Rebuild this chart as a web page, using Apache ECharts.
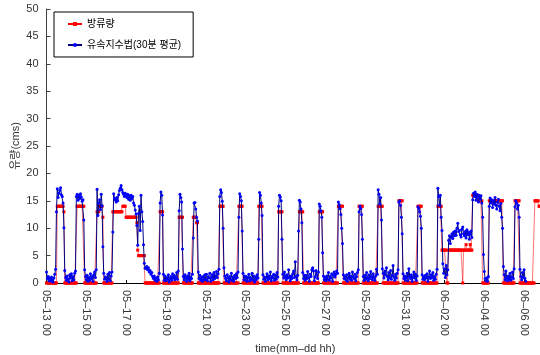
<!DOCTYPE html>
<html>
<head>
<meta charset="utf-8">
<script src="https://cdn.jsdelivr.net/npm/echarts@6/dist/echarts.min.js"></script>
<style>
  html, body { margin: 0; padding: 0; background: #fff; }
  #chart { width: 540px; height: 355px; }
</style>
</head>
<body>
<div id="chart"></div>
<script>
// Hourly values from 05-13 00:00, one row per day (24 hours).

// 방류량 (cms)
const dischargeHourly = [
  0,0,0,0,0,0,0,0,0,0,0,0,0,14,14,14,14,14,14,14,14,13,0,0,          // 05-13
  0,0,0,0,0,0,0,0,0,0,0,0,0,14,14,14,14,14,14,14,14,14,0,0,          // 05-14
  0,0,0,0,0,0,0,0,0,0,0,0,0,13,13,13,14,14,14,14,12,0,0,0,           // 05-15
  0,0,0,0,0,0,0,0,13,13,13,13,13,13,13,13,13,13,13,13,14,14,14,14,   // 05-16
  12,12,12,12,12,12,12,12,12,12,12,12,12,11,6,5,5,5,5,5,5,5,5,0,     // 05-17
  0,0,0,0,0,0,0,0,0,0,0,0,0,0,0,0,0,13,13,13,13,0,0,0,               // 05-18
  0,0,0,0,0,0,0,0,0,0,0,0,0,0,0,0,12,12,12,12,12,0,0,0,              // 05-19
  0,0,0,0,0,0,0,0,0,12,12,12,12,11,11,0,0,0,0,0,0,0,0,0,             // 05-20
  0,0,0,0,0,0,0,0,0,0,0,0,0,0,0,0,0,14,14,14,14,14,0,0,              // 05-21
  0,0,0,0,0,0,0,0,0,0,0,0,0,0,0,0,14,14,14,14,14,0,0,0,              // 05-22
  0,0,0,0,0,0,0,0,0,0,0,0,0,0,0,0,14,14,14,14,14,0,0,0,              // 05-23
  0,0,0,0,0,0,0,0,0,0,0,0,0,0,0,0,13,13,13,13,13,0,0,0,              // 05-24
  0,0,0,0,0,0,0,0,0,0,0,0,0,0,0,0,0,13,13,13,13,13,0,0,              // 05-25
  0,0,0,0,0,0,0,0,0,0,0,0,0,0,0,0,0,13,13,13,13,13,0,0,              // 05-26
  0,0,0,0,0,0,0,0,0,0,0,0,0,0,0,0,14,14,14,14,14,14,0,0,             // 05-27
  0,0,0,0,0,0,0,0,0,0,0,0,0,0,0,0,0,14,14,14,14,14,0,0,              // 05-28
  0,0,0,0,0,0,0,0,0,0,0,0,0,0,0,0,14,14,14,14,14,14,0,0,             // 05-29
  0,0,0,0,0,0,0,0,0,0,0,0,0,0,0,0,0,15,15,15,15,15,0,0,              // 05-30
  0,0,0,0,0,0,0,0,0,0,0,0,0,0,0,0,14,14,14,14,14,0,0,0,              // 05-31
  0,0,0,0,0,0,0,0,0,0,0,0,0,0,0,0,14,14,14,14,14,6,6,6,              // 06-01
  6,6,6,0,0,6,6,6,6,6,6,6,6,6,6,6,6,6,6,6,6,6,0,6,                   // 06-02
  6,6,7,6,6,6,6,7,6,6,16,16,16,16,16,16,16,15,15,15,15,15,0,0,       // 06-03
  0,0,0,0,0,0,15,15,15,15,15,15,15,15,15,15,15,15,15,15,15,15,15,0,  // 06-04
  0,0,0,0,0,0,0,0,0,0,0,0,0,15,15,15,15,15,15,0,0,0,0,0,             // 06-05
  0,0,0,0,0,0,0,0,0,0,0,0,0,15,15,15,15,15,14,14,14,14,0,0           // 06-06
];

// 유속지수법 (30분 평균), cms
const velocityIndexHourly = [
  2.0,0.8,1.2,0.4,0.9,0.3,1.1,0.6,0.2,0.9,1.6,2.5,13.0,17.2,15.6,16.4,16.9,17.4,16.1,15.8,14.6,10.1,2.3,1.0,
  0.5,1.3,0.7,0.2,1.5,0.9,1.7,0.4,1.2,0.6,1.8,2.2,15.8,16.2,15.1,16.0,15.4,16.3,15.7,14.9,15.2,11.5,2.4,1.2,
  0.6,1.4,0.3,1.0,0.5,1.7,0.8,1.2,0.3,1.5,2.0,1.0,2.4,17.1,12.3,14.6,15.2,13.4,16.2,14.1,6.6,1.8,0.7,1.1,
  0.9,0.3,1.6,0.7,1.9,0.4,1.3,2.0,9.3,16.3,15.5,15.2,14.8,15.6,15.0,16.1,16.9,17.3,17.8,17.0,16.5,16.2,15.8,16.4,
  16.0,15.6,16.2,15.3,15.9,15.1,16.0,15.4,15.8,14.6,14.2,13.3,12.6,10.5,6.9,12.7,14.0,9.6,16.0,13.0,11.2,7.0,3.6,2.7,
  2.7,3.0,2.4,2.8,2.0,2.3,1.6,1.9,1.2,0.8,1.3,0.5,0.9,0.3,1.1,0.6,1.8,14.6,16.6,16.0,12.4,1.6,0.5,1.3,
  0.4,1.0,0.6,1.5,0.2,0.8,1.2,0.5,1.7,0.9,1.4,0.6,1.0,1.9,0.7,2.2,13.2,16.2,15.6,14.8,6.2,1.2,0.6,1.5,
  0.9,0.3,1.3,0.7,1.8,0.4,1.1,0.8,1.6,8.2,14.6,14.7,13.5,12.0,11.3,2.0,0.8,1.4,0.5,1.0,0.3,1.2,0.6,1.5,
  0.7,1.6,0.4,1.1,0.9,1.8,0.3,1.0,1.5,0.6,1.9,0.8,1.3,2.1,1.0,1.7,2.5,15.8,17.0,16.5,14.9,10.0,2.8,1.3,
  0.8,0.4,1.5,0.9,0.2,1.2,0.6,1.8,0.5,1.1,0.3,1.4,0.8,1.7,1.0,2.0,12.0,16.3,15.8,15.0,9.5,1.8,0.6,1.3,
  0.5,1.2,0.3,0.9,1.6,0.4,1.0,0.7,1.8,0.5,1.3,0.2,1.1,0.6,1.5,0.9,8.0,16.5,16.0,14.6,12.3,1.5,0.7,1.1,
  0.3,1.0,1.7,0.6,1.3,0.8,2.0,0.4,1.2,0.9,1.6,0.5,1.4,0.7,1.9,1.1,14.0,16.0,15.7,15.0,8.0,1.6,0.9,2.0,
  1.2,0.6,1.5,0.9,2.4,1.1,0.4,1.3,0.8,1.7,2.2,1.0,3.9,1.2,0.6,1.4,9.5,15.1,14.8,13.5,11.0,1.9,0.8,1.4,
  0.5,1.4,0.8,2.1,1.0,0.3,1.6,1.2,2.4,2.8,2.2,0.4,1.1,2.3,1.5,0.8,2.0,14.4,14.0,13.2,12.0,5.5,1.3,0.6,
  1.0,0.4,1.3,0.7,1.9,0.5,1.2,0.9,1.7,0.3,1.4,2.0,1.1,1.6,2.2,1.8,14.8,14.3,13.6,12.5,10.0,7.2,1.5,0.8,
  1.2,0.6,1.5,0.3,1.0,1.8,0.7,1.3,0.5,2.0,1.1,0.8,1.6,0.4,1.2,1.9,2.4,13.0,14.0,13.6,12.5,8.0,1.2,0.5,
  1.4,0.7,1.9,1.0,0.4,1.5,0.8,2.1,1.2,0.6,1.7,1.0,0.5,1.3,2.5,1.6,17.0,16.2,14.4,15.6,11.5,2.6,1.8,0.9,
  2.2,1.5,2.8,1.2,0.6,1.9,1.0,2.3,0.7,1.4,3.2,1.1,0.5,1.6,0.9,1.8,2.4,14.8,15.0,14.2,12.0,9.0,1.7,0.8,
  1.3,0.5,1.0,1.8,0.4,2.6,1.2,0.8,1.5,0.3,1.1,2.0,0.9,1.6,0.5,1.3,13.9,13.6,13.0,12.2,10.0,1.5,0.7,1.2,
  0.6,1.4,0.9,1.7,0.3,1.1,2.2,0.8,1.5,1.0,1.9,0.5,1.2,0.7,1.6,2.5,17.3,15.8,14.2,16.0,12.0,9.6,3.5,1.8,
  2.6,1.0,3.2,1.5,2.4,7.8,8.6,7.2,8.4,9.0,8.1,9.3,8.6,9.5,8.7,10.0,10.9,9.4,9.6,8.8,8.4,9.8,10.2,9.0,
  8.6,9.4,8.2,9.7,8.8,9.3,8.0,8.9,9.5,8.3,15.2,16.4,15.8,16.6,15.1,16.2,15.6,14.8,16.0,15.3,15.9,14.6,12.0,5.2,
  2.1,0.8,0.4,0.9,0.3,1.2,14.0,15.5,14.6,15.2,13.8,15.0,14.4,15.6,14.2,13.5,14.8,15.3,14.0,13.2,14.5,12.0,10.0,3.0,
  1.5,0.6,2.2,0.9,0.4,1.3,0.7,1.8,0.5,1.1,2.0,0.8,2.6,13.9,15.0,14.6,13.5,14.2,12.0,2.5,1.2,0.6,1.9,1.0,
  2.4,0.8,0.3
];

// Tick labels every 48 hours
const timeTickLabels = [
  '05\u201313 00', '05\u201315 00', '05\u201317 00', '05\u201319 00', '05\u201321 00',
  '05\u201323 00', '05\u201325 00', '05\u201327 00', '05\u201329 00', '05\u201331 00',
  '06\u201302 00', '06\u201304 00', '06\u201306 00'
];

const seriesNames = ['방류량', '유속지수법(30분 평균)'];

const toPairs = arr => arr.map((v, i) => [i, v]);

const latin = "'Liberation Sans', Arial, 'Noto Sans CJK KR', sans-serif";
const korean = "'Liberation Sans', 'Noto Sans CJK KR', sans-serif";

const chart = echarts.init(document.getElementById('chart'), null, { renderer: 'canvas' });

chart.setOption({
  animation: false,
  backgroundColor: '#fff',
  grid: {
    left: 46.5, top: 9, width: 497.5, height: 274,
    containLabel: false, outerBoundsMode: 'none'
  },
  legend: {
    orient: 'vertical',
    left: 54, top: 12,
    backgroundColor: '#fff',
    borderColor: '#000', borderWidth: 1,
    padding: [7, 12, 7, 13],
    itemWidth: 14, itemHeight: 5, itemGap: 11,
    textStyle: { fontSize: 10, color: '#000', fontFamily: korean },
    data: [
      { name: seriesNames[0], lineStyle: { opacity: 1 } },
      { name: seriesNames[1] }
    ]
  },
  xAxis: {
    type: 'value',
    min: 0, max: 600, interval: 48,
    name: 'time(mm\u2013dd hh)',
    nameLocation: 'middle', nameGap: 60, nameMoveOverlap: false,
    nameTextStyle: { fontSize: 11, color: '#333', fontFamily: latin },
    axisLine: { show: true, onZero: false, lineStyle: { color: '#000', width: 1 } },
    axisTick: { show: true, inside: true, length: 3, lineStyle: { color: '#000' } },
    axisLabel: {
      rotate: -90, margin: 7, fontSize: 11, color: '#333', fontFamily: latin,
      formatter: v => timeTickLabels[Math.round(v / 48)] || ''
    },
    splitLine: { show: false }
  },
  yAxis: {
    type: 'value',
    min: 0, max: 50, interval: 5,
    name: '유량(cms)',
    nameLocation: 'middle', nameGap: 25, nameMoveOverlap: false,
    nameTextStyle: { fontSize: 11, color: '#333', fontFamily: korean },
    axisLine: { show: true, lineStyle: { color: '#404040', width: 1 } },
    axisTick: { show: true, inside: true, length: 4, lineStyle: { color: '#404040' } },
    axisLabel: { margin: 8, fontSize: 11, color: '#333', fontFamily: latin },
    splitLine: { show: false }
  },
  series: [
    {
      name: seriesNames[0],
      type: 'line',
      data: toPairs(dischargeHourly),
      symbol: 'rect', symbolSize: 3, showAllSymbol: true,
      lineStyle: { color: '#ff0000', width: 1, opacity: 0.55 },
      itemStyle: { color: '#ff0000' },
      emphasis: { disabled: true },
      z: 2
    },
    {
      name: seriesNames[1],
      type: 'line',
      data: toPairs(velocityIndexHourly),
      symbol: 'circle', symbolSize: 3, showAllSymbol: true,
      lineStyle: { color: '#000080', width: 1 },
      itemStyle: { color: '#0000ff' },
      emphasis: { disabled: true },
      z: 3
    }
  ]
});
</script>
</body>
</html>
